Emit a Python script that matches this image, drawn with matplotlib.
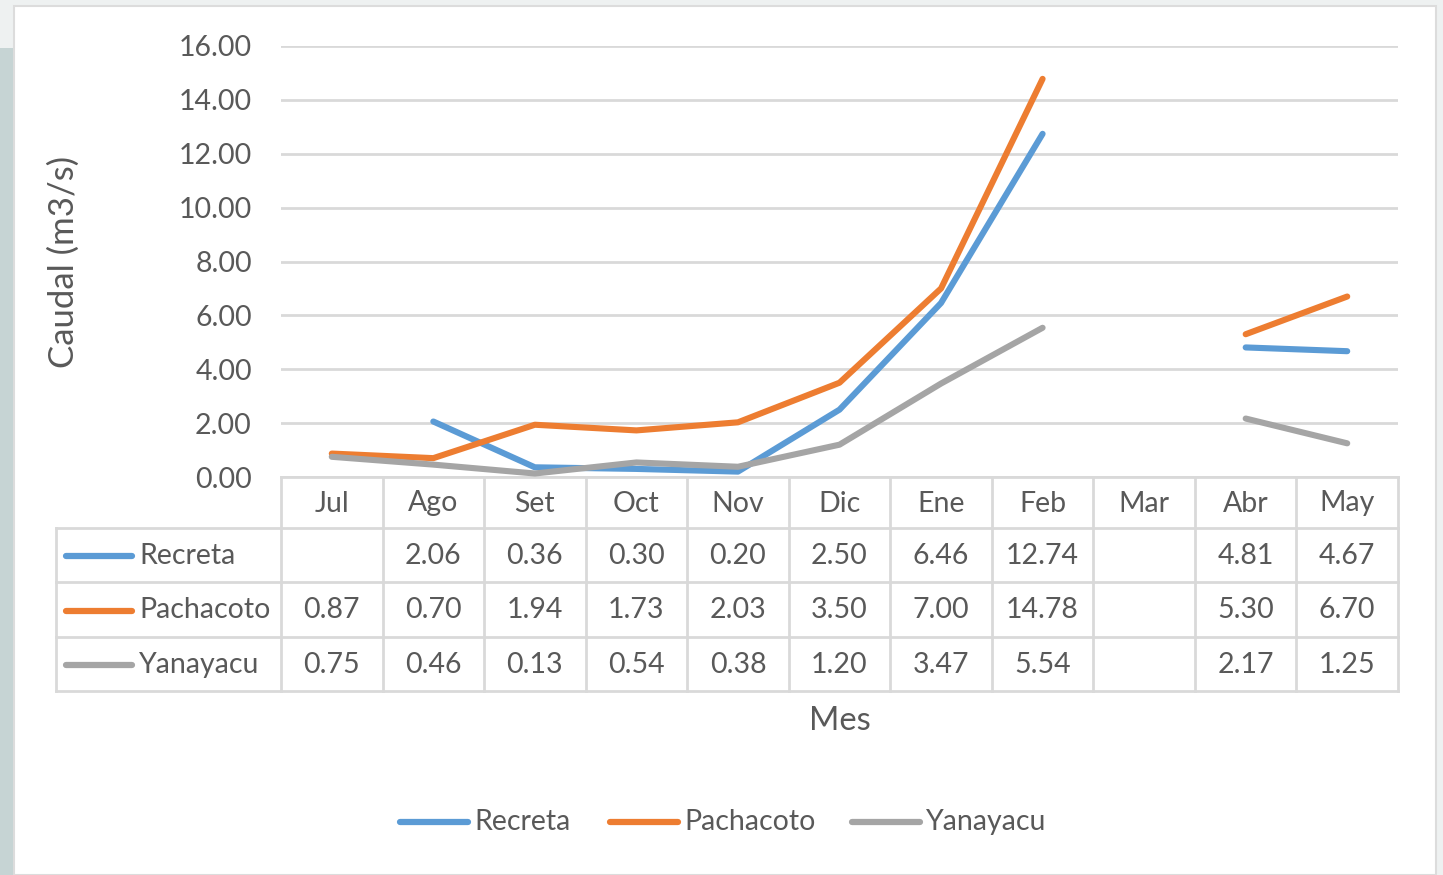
import numpy as np
import matplotlib
matplotlib.use("Agg")
import matplotlib.pyplot as plt

plt.rcParams["font.family"] = ["Lato", "DejaVu Sans"]

months = ["Jul", "Ago", "Set", "Oct", "Nov", "Dic", "Ene", "Feb", "Mar", "Abr", "May"]
recreta = [np.nan, 2.06, 0.36, 0.30, 0.20, 2.50, 6.46, 12.74, np.nan, 4.81, 4.67]
pachacoto = [0.87, 0.70, 1.94, 1.73, 2.03, 3.50, 7.00, 14.78, np.nan, 5.30, 6.70]
yanayacu = [0.75, 0.46, 0.13, 0.54, 0.38, 1.20, 3.47, 5.54, np.nan, 2.17, 1.25]
series_names = ["Recreta", "Pachacoto", "Yanayacu"]
yticks = [0, 2, 4, 6, 8, 10, 12, 14, 16]

colors = ["#5b9bd5", "#ed7d31", "#a5a5a5"]
txt = "#595959"
grid = "#d9d9d9"
fs = 20.5
W, H = 1443, 875

fig = plt.figure(figsize=(W / 100, H / 100), dpi=100)
fig.patch.set_facecolor("#eef1f1")

# background overlay in pixel coords
bg = fig.add_axes([0, 0, 1, 1])
bg.set_xlim(0, W); bg.set_ylim(H, 0); bg.axis("off")
bg.add_patch(plt.Rectangle((0, 48), 14, H - 48, color="#c6d4d4", lw=0))
bg.add_patch(plt.Rectangle((14, 6), 1422, H - 6, facecolor="white", edgecolor="#dcdcdc", lw=1.5))

# plot area
x0, x1, ytop, ybot = 281, 1398, 46, 477
ax = fig.add_axes([x0 / W, (H - ybot) / H, (x1 - x0) / W, (ybot - ytop) / H])
ax.set_facecolor("none")
n = len(months)
xs = np.arange(n)
ax.set_xlim(-0.5, n - 0.5)
ax.set_ylim(0, 16)
ax.set_yticks(yticks)
ax.set_yticklabels([f"{v:.2f}" for v in yticks], fontsize=fs, color=txt)
ax.tick_params(axis="y", length=0, pad=21)
ax.set_xticks([])
for s in ax.spines.values():
    s.set_visible(False)
ax.grid(axis="y", color=grid, lw=2)
ax.set_axisbelow(True)
for vals, c in zip([recreta, pachacoto, yanayacu], colors):
    ax.plot(xs, vals, color=c, lw=4.4, solid_capstyle="round", solid_joinstyle="round", zorder=3)

bg.text(64, 262, "Caudal (m3/s)", rotation=90, ha="center", va="center", fontsize=25, color=txt)

# data table
cw = (x1 - x0) / n
rows_y = [477, 528, 582, 637, 691]
tl = 56
bg.plot([x0, x1], [rows_y[0], rows_y[0]], color=grid, lw=2)
for yy in rows_y[1:]:
    bg.plot([tl, x1], [yy, yy], color=grid, lw=2)
for k in range(n + 1):
    bg.plot([x0 + k * cw] * 2, [rows_y[0], rows_y[-1]], color=grid, lw=2)
bg.plot([tl, tl], [rows_y[1], rows_y[-1]], color=grid, lw=2)
for i, m in enumerate(months):
    bg.text(x0 + (i + 0.5) * cw, (rows_y[0] + rows_y[1]) / 2 + 1, m, ha="center", va="center",
            fontsize=fs, color=txt)
for r, (name, vals, c) in enumerate(zip(series_names, [recreta, pachacoto, yanayacu], colors)):
    yc = (rows_y[r + 1] + rows_y[r + 2]) / 2 + 1
    bg.plot([66, 132], [yc, yc], color=c, lw=4.5, solid_capstyle="round")
    bg.text(139, yc, name, ha="left", va="center", fontsize=fs, color=txt)
    for i, v in enumerate(vals):
        if not np.isnan(v):
            bg.text(x0 + (i + 0.5) * cw, yc, f"{v:.2f}", ha="center", va="center",
                    fontsize=fs, color=txt)

bg.text((x0 + x1) / 2, 721, "Mes", ha="center", va="center", fontsize=23.5, color=txt)

# legend
leg_x = [400, 610, 852]
for lx, name, c in zip(leg_x, series_names, colors):
    bg.plot([lx, lx + 68], [822, 822], color=c, lw=4.5, solid_capstyle="round")
    bg.text(lx + 74, 822, name, ha="left", va="center", fontsize=fs, color=txt)

fig.savefig("out.png", dpi=100)
